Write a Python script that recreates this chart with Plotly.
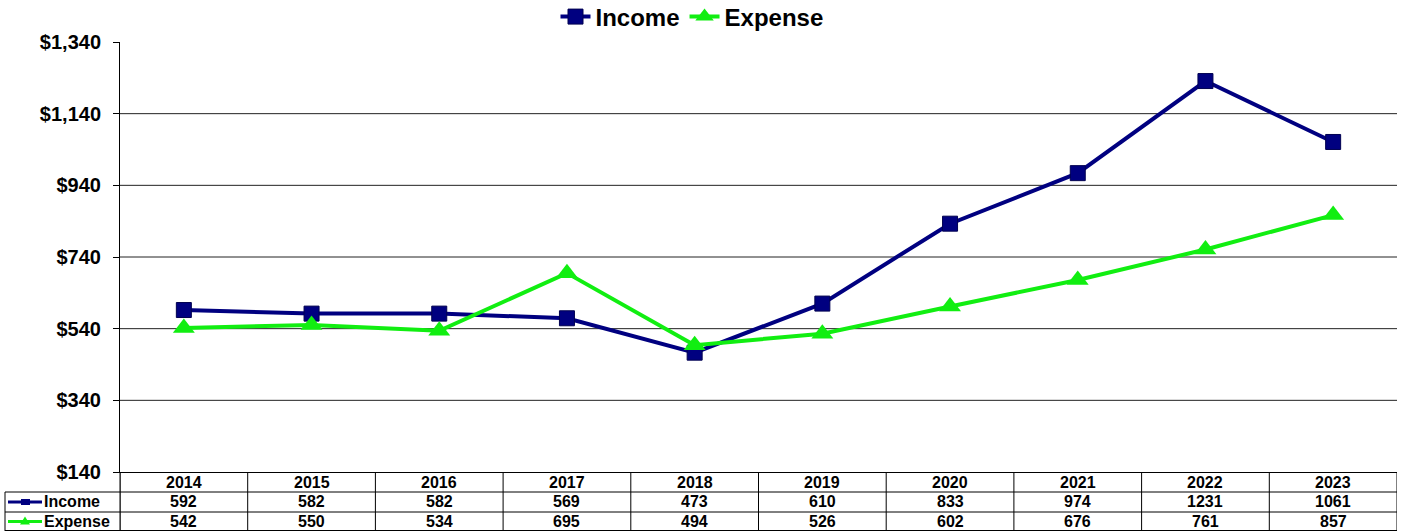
import plotly.graph_objects as go

years = ["2014", "2015", "2016", "2017", "2018", "2019", "2020", "2021", "2022", "2023"]
income = [592, 582, 582, 569, 473, 610, 833, 974, 1231, 1061]
expense = [542, 550, 534, 695, 494, 526, 602, 676, 761, 857]
series_names = ["Income", "Expense"]
y_ticks = [140, 340, 540, 740, 940, 1140, 1340]

NAVY = "#000080"
GREEN = "#11EE11"
FONT = "Liberation Sans, Arial, sans-serif"

W, H = 1408, 531
ML, MR, MT, MB = 120, 11, 42, 59
PW = W - ML - MR
PH = H - MT - MB

def px_x(p):  # pixel x -> paper
    return (p - ML) / PW

def px_y(p):  # pixel y -> paper
    return (H - MB - p) / PH

xs = list(range(len(years)))

fig = go.Figure()
fig.add_trace(go.Scatter(
    x=xs, y=income, name=series_names[0], mode="lines+markers",
    line=dict(color=NAVY, width=4),
    marker=dict(symbol="square", size=15, color=NAVY, line=dict(color="#000050", width=1)),
))
fig.add_trace(go.Scatter(
    x=xs, y=expense, name=series_names[1], mode="lines+markers",
    line=dict(color=GREEN, width=4),
    marker=dict(symbol="triangle-up", size=19, color=GREEN),
))

shapes = []
# horizontal gridlines (except top)
for v in y_ticks[1:-1]:
    shapes.append(dict(type="line", xref="paper", yref="y", x0=0, x1=1, y0=v, y1=v,
                       line=dict(color="#222222", width=1), layer="below"))

# table lines
row_lines = [492, 512, 530.5]
for r in row_lines:
    shapes.append(dict(type="line", xref="paper", yref="paper", x0=px_x(5), x1=1,
                       y0=px_y(r), y1=px_y(r), line=dict(color="black", width=1)))
for k in range(len(years) + 1):
    xv = k - 0.5
    shapes.append(dict(type="line", xref="x", yref="paper", x0=xv, x1=xv,
                       y0=0, y1=px_y(531), line=dict(color="black", width=1)))
shapes.append(dict(type="line", xref="paper", yref="paper", x0=px_x(5), x1=px_x(5),
                   y0=px_y(492), y1=px_y(531), line=dict(color="black", width=1)))
shapes.append(dict(type="line", xref="paper", yref="paper", x0=px_x(120), x1=px_x(120),
                   y0=px_y(472), y1=px_y(531), line=dict(color="black", width=1)))

# legend keys in table
row_centers = {"hdr": 482, "inc": 502, "exp": 521.5}
for key, color in (("inc", NAVY), ("exp", GREEN)):
    yc = row_centers[key]
    shapes.append(dict(type="line", xref="paper", yref="paper", x0=px_x(8), x1=px_x(42),
                       y0=px_y(yc), y1=px_y(yc), line=dict(color=color, width=3)))
yc = row_centers["inc"]
shapes.append(dict(type="rect", xref="paper", yref="paper", x0=px_x(21), x1=px_x(30),
                   y0=px_y(yc - 3), y1=px_y(yc + 3), fillcolor=NAVY, line=dict(width=0)))
yc = row_centers["exp"]
shapes.append(dict(type="path", xref="paper", yref="paper",
                   path=f"M {px_x(20)} {px_y(yc + 3)} L {px_x(30)} {px_y(yc + 3)} L {px_x(25)} {px_y(yc - 5)} Z",
                   fillcolor=GREEN, line=dict(width=0)))

annotations = []
tfont = dict(family=FONT, size=16, color="black")
for i, yr in enumerate(years):
    annotations.append(dict(x=i, y=px_y(row_centers["hdr"]), xref="x", yref="paper", text=f"<b>{yr}</b>",
                            showarrow=False, font=tfont, xanchor="center", yanchor="middle"))
    annotations.append(dict(x=i, y=px_y(row_centers["inc"]), xref="x", yref="paper", text=f"<b>{income[i]}</b>",
                            showarrow=False, font=tfont, xanchor="center", yanchor="middle"))
    annotations.append(dict(x=i, y=px_y(row_centers["exp"]), xref="x", yref="paper", text=f"<b>{expense[i]}</b>",
                            showarrow=False, font=tfont, xanchor="center", yanchor="middle"))
for key, name in (("inc", series_names[0]), ("exp", series_names[1])):
    annotations.append(dict(x=px_x(42), y=px_y(row_centers[key]), xref="paper", yref="paper",
                            text=f"<b>{name}</b>", showarrow=False, font=tfont,
                            xanchor="left", yanchor="middle"))

fig.update_layout(
    width=W, height=H,
    margin=dict(l=ML, r=MR, t=MT, b=MB, pad=0, autoexpand=False),
    paper_bgcolor="white", plot_bgcolor="white",
    font=dict(family=FONT, color="black"),
    showlegend=True,
    legend=dict(orientation="h", xref="container", x=692 / W, xanchor="center",
                yref="container", y=1 - 17 / H, yanchor="middle",
                font=dict(family=FONT, size=24, color="black", weight="bold"),
                itemwidth=30, tracegroupgap=0, bgcolor="rgba(0,0,0,0)"),
    xaxis=dict(range=[-0.5, len(years) - 0.5], showticklabels=False, showgrid=False,
               zeroline=False, showline=True, linecolor="black", linewidth=1, ticks=""),
    yaxis=dict(range=[y_ticks[0], y_ticks[-1]], tickvals=y_ticks,
               ticktext=[f"<b>${v:,}</b>" for v in y_ticks],
               showgrid=False, zeroline=False, showline=True, linecolor="black", linewidth=1,
               ticks="outside", ticklen=6, tickcolor="black", ticklabelstandoff=8,
               tickfont=dict(family=FONT, size=20, color="black")),
    shapes=shapes,
    annotations=annotations,
)

fig.write_html("out.html", config={"displayModeBar": False},
               post_script="document.body.style.margin='0';document.body.style.overflow='hidden';")
